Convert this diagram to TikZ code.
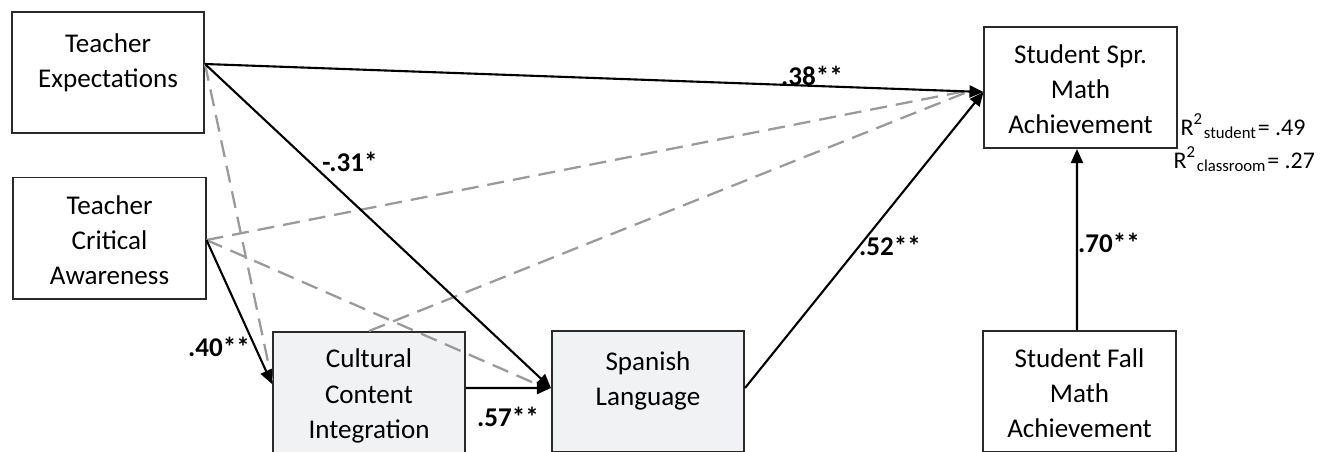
\documentclass[tikz,border=0pt]{standalone}
\usepackage{fontspec}
\setmainfont{Carlito}
\usetikzlibrary{arrows.meta,calc}
\definecolor{boxfill}{HTML}{F1F2F4}
\definecolor{dashgray}{HTML}{9A9A9A}
\definecolor{boxline}{HTML}{2A2A2A}
\begin{document}
\begin{tikzpicture}[x=0.01cm,y=-0.01cm,
  font=\fontsize{7.7}{10}\selectfont,
  box/.style={draw=boxline, line width=0.55pt, minimum width=1.92cm, minimum height=1.21cm, inner sep=0pt},
  shadedbox/.style={box, fill=boxfill},
  txt/.style={align=center, inner sep=0pt},
  coef/.style={font=\fontsize{7.7}{10}\selectfont\bfseries, inner sep=0pt},
  rsq/.style={font=\fontsize{6.8}{8}\selectfont, anchor=base west, inner sep=0pt},
  sigpath/.style={draw=black, line width=0.6pt, -{Triangle[length=0.14cm,width=0.12cm]}},
  nspath/.style={draw=dashgray, line width=0.65pt, dash pattern=on 0.17cm off 0.09cm}]
\useasboundingbox (0,0) rectangle (1332,451);
\clip (0,0) rectangle (1332,451);

% boxes
\node[box] (te) at (108,72.5) {};
\node[box] (tca) at (109.5,238) {};
\node[shadedbox] (cci) at (369,392.5) {};
\node[shadedbox] (sl) at (648,391.5) {};
\node[box] (ssma) at (1080.5,87.5) {};
\node[box] (fall) at (1079.5,391.5) {};

% box texts
\node[txt] (tet) at (108,63) {Teacher\\Expectations};
\node[txt] (tcat) at (109.5,240) {Teacher\\Critical\\Awareness};
\node[txt] (ccit) at (369,396) {Cultural\\Content\\Integration};
\node[txt] (slt) at (648,381) {Spanish\\Language};
\node[txt] (ssmat) at (1080.5,89) {Student Spr.\\Math\\Achievement};
\node[txt] (fallt) at (1079.5,393) {Student Fall\\Math\\Achievement};

% connection points
\coordinate (teo) at ([yshift=0.085cm]te.east);
\coordinate (tcao) at ([yshift=-0.02cm]tca.east);
\coordinate (ssmai) at ([yshift=-0.045cm]ssma.west);
\coordinate (ccii) at ([yshift=0.085cm]cci.west);
\coordinate (cciu) at ([yshift=0.12cm]cci.west);
\coordinate (ccio) at ([yshift=0.045cm]cci.east);
\coordinate (slin) at ([yshift=0.035cm]sl.west);
\coordinate (slind) at ([yshift=0.055cm,xshift=-0.1cm]sl.west);
\coordinate (slo) at ([yshift=0.035cm]sl.east);
\coordinate (ssmab) at ([xshift=-0.035cm]ssma.south);
\coordinate (fallt0) at ([xshift=-0.025cm]fall.north);
\coordinate (ssmad) at ([xshift=-0.1cm,yshift=-0.02cm]ssma.west);

% non-significant paths
\draw[nspath] (teo) -- (cciu);
\draw[nspath] (tcao) -- (ssmad);
\draw[nspath] (tcao) -- (slind);
\draw[nspath] (cci.north) -- (ssmad);

% significant paths
\draw[sigpath] (teo) -- (ssmai);
\draw[sigpath] (teo) -- (slin);
\draw[sigpath] (tcao) -- (ccii);
\draw[sigpath] (ccio) -- (slin);
\draw[sigpath] (slo) -- (ssmai);
\draw[sigpath] (fallt0) -- (ssmab);

% coefficients
\node[coef] (c38) at (812,76) {.38**};
\node[coef] (c31) at (350,162) {-.31*};
\node[coef] (c40) at (219,347) {.40**};
\node[coef] (c57) at (508,417) {.57**};
\node[coef] (c52) at (890,246) {.52**};
\node[coef] (c70) at (1109,243) {.70**};

% R squared
\node[rsq] (r2s) at (1180,135) {R\textsuperscript{2}\textsubscript{student}= .49};
\node[rsq] (r2c) at (1173,168) {R\textsuperscript{2}\textsubscript{classroom}= .27};
\end{tikzpicture}
\end{document}
